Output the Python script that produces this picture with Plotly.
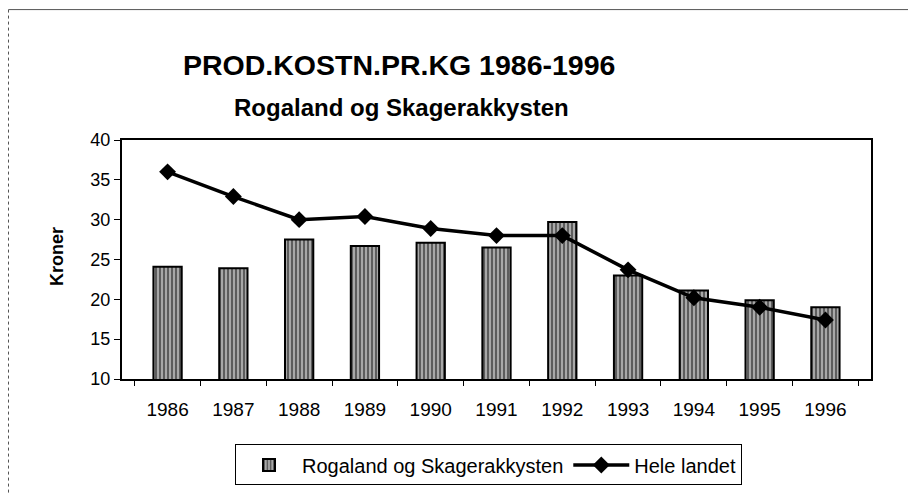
import plotly.graph_objects as go

years = ["1986", "1987", "1988", "1989", "1990", "1991", "1992", "1993", "1994", "1995", "1996"]
rogaland = [24.1, 23.9, 27.5, 26.7, 27.1, 26.5, 29.7, 23.0, 21.1, 19.9, 19.0]
hele_landet = [36.0, 32.9, 30.0, 30.4, 28.9, 28.0, 28.0, 23.7, 20.2, 19.0, 17.4]
y_ticks = [10, 15, 20, 25, 30, 35, 40]

FONT = "Liberation Sans, Arial, sans-serif"

# page is offset by the 8px body margin
W, H = 908, 489
ML, MR, MT, MB = 114, 45, 132, 116
plot_w = W - ML - MR
plot_h = H - MT - MB


def px(page_x):
    return (page_x - 8 - ML) / plot_w


def py(page_y):
    return (H - MB - (page_y - 8)) / plot_h


fig = go.Figure()
fig.add_trace(go.Bar(
    x=years, y=rogaland, base=0, name="Rogaland og Skagerakkysten",
    marker=dict(
        color="#8a8a8a",
        line=dict(color="black", width=2),
        pattern=dict(shape="|", fgcolor="#111111", bgcolor="#a8a8a8", size=4, solidity=0.5),
    ),
))
fig.add_trace(go.Scatter(
    x=years, y=hele_landet, name="Hele landet", mode="lines+markers",
    line=dict(color="black", width=3.5),
    marker=dict(symbol="diamond", size=13, color="black"),
))

fig.update_layout(
    width=W, height=H,
    paper_bgcolor="white", plot_bgcolor="white",
    margin=dict(l=ML, r=MR, t=MT, b=MB),
    font=dict(family=FONT, color="black", size=18),
    bargap=0.57,
    showlegend=True,
    legend=dict(
        orientation="h", x=px(235), xanchor="left", y=py(447), yanchor="top",
        bordercolor="black", borderwidth=1, bgcolor="white",
        font=dict(size=20, family=FONT), itemwidth=56,
    ),
    annotations=[
        dict(text="<b>PROD.KOSTN.PR.KG 1986-1996</b>", x=px(399), y=py(64), xref="paper", yref="paper",
             showarrow=False, font=dict(size=28.5, family=FONT), xanchor="center", yanchor="middle"),
        dict(text="<b>Rogaland og Skagerakkysten</b>", x=px(401), y=py(107), xref="paper", yref="paper",
             showarrow=False, font=dict(size=24, family=FONT), xanchor="center", yanchor="middle"),
        dict(text="<b>Kroner</b>", x=px(57), y=py(258), xref="paper", yref="paper", textangle=-90,
             showarrow=False, font=dict(size=18, family=FONT), xanchor="center", yanchor="middle"),
    ],
    shapes=[
        dict(type="line", xref="paper", yref="paper", x0=px(8.5), x1=px(916), y0=py(8.5), y1=py(8.5),
             line=dict(color="#555", width=1)),
        dict(type="line", xref="paper", yref="paper", x0=px(8.5), x1=px(8.5), y0=py(8.5), y1=py(497),
             line=dict(color="#555", width=1, dash="dot")),
    ],
)

fig.update_xaxes(
    showline=True, linecolor="black", linewidth=2, mirror=True,
    ticks="outside", ticklen=5, tickcolor="black", tickson="boundaries",
    tickfont=dict(size=19), showgrid=False, ticklabelstandoff=12,
)
fig.update_yaxes(
    range=[10, 40], tickvals=y_ticks, showline=True, linecolor="black", linewidth=2, mirror=True,
    ticks="outside", ticklen=6, tickcolor="black", showgrid=False, zeroline=False,
    tickfont=dict(size=18),
)

fig.write_html("out.html")
